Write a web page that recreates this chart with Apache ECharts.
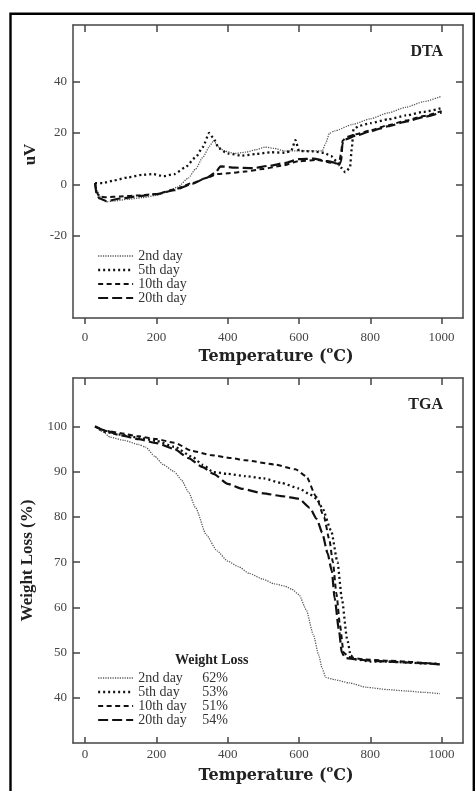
<!DOCTYPE html>
<html><head><meta charset="utf-8">
<script src="https://cdn.jsdelivr.net/npm/echarts@6/dist/echarts.min.js"></script>
<style>html,body{margin:0;padding:0;background:#fff}#c{width:475px;height:791px}</style>
</head><body><div id="c"></div>
<script>
// ---------- data ----------
const seriesNames = ['2nd day', '5th day', '10th day', '20th day'];
const weightLoss = ['62%', '53%', '51%', '54%'];
const xTicks = [0, 200, 400, 600, 800, 1000];
const dtaTicks = [-20, 0, 20, 40];
const tgaTicks = [40, 50, 60, 70, 80, 90, 100];

// DTA (uV) vs temperature (°C)
const dta2nd = [[28,0.5],[35,-3],[45,-5.5],[60,-6.8],[80,-6.5],[120,-5.8],[160,-5.2],[200,-4.3],[230,-3],[260,-1],[290,2.5],[310,6],[330,10.5],[350,15],[360,17],[375,14.5],[390,13],[420,12],[450,12.5],[480,13.5],[505,14.5],[530,14],[560,13],[600,13],[640,13],[665,13],[675,16],[685,19.8],[700,20.8],[750,23.3],[800,25.5],[850,27.8],[900,30],[950,32.2],[1000,34.3]];
const dta5th = [[28,0.5],[50,0.5],[80,1.5],[120,2.7],[160,3.7],[190,4],[220,3.2],[250,4],[280,6.5],[310,10.5],[330,14.5],[348,20],[360,18],[375,14],[400,12],[440,11.2],[480,11.8],[520,12.5],[560,12.3],[578,13],[590,17.2],[600,13],[640,12.8],[670,12.3],[690,11],[705,9],[718,6.5],[730,4.7],[743,6.5],[748,14],[753,21.5],[770,22.8],[800,23.8],[850,25.3],[900,26.8],[950,28.2],[1000,29.7]];
const dta10th = [[28,0.5],[32,-3],[40,-4.8],[60,-5],[100,-4.7],[150,-4.3],[200,-3.8],[250,-2],[300,0.5],[340,2.5],[370,4],[400,4.3],[450,5],[500,6],[550,7.2],[600,9],[650,9.5],[700,8.2],[712,8],[718,12],[722,17],[735,18.5],[760,19.5],[800,21],[850,23],[900,24.8],[950,26.6],[1000,28.5]];
const dta20th = [[28,0.5],[32,-3.5],[40,-5.5],[60,-6.5],[100,-5.5],[150,-4.6],[200,-3.8],[250,-2.3],[300,0.2],[340,2.5],[365,4.5],[380,7],[420,6.5],[470,6.3],[520,7.3],[560,8.3],[600,9.8],[640,10],[680,9],[705,8.3],[712,7.5],[718,9],[722,16],[730,17.5],[760,19],[800,20.6],[850,22.6],[900,24.4],[950,26.2],[1000,28]];

// TGA (weight %) vs temperature (°C)
const tga2nd = [[28,100],[50,98.8],[70,97.6],[110,96.9],[150,96],[170,95.4],[195,93.4],[220,91.5],[250,90],[270,88.2],[290,85.5],[310,82],[340,76],[370,72.5],[400,70.2],[430,69],[460,67.5],[500,66.2],[530,65.2],[560,64.7],[580,64],[600,62.8],[620,59.5],[640,54],[655,49.5],[665,46.5],[675,44.5],[700,44],[740,43.3],[790,42.3],[850,41.8],[900,41.5],[950,41.2],[995,40.9]];
const tga5th = [[28,100],[60,98.7],[100,98.2],[150,97.5],[200,96.8],[250,95.5],[300,93.3],[330,91.5],[360,89.9],[400,89.5],[450,89],[500,88.5],[550,87.5],[600,86.3],[630,85],[650,84],[665,82],[690,77],[708,70],[720,62],[735,53],[745,49.3],[760,48.5],[800,48],[850,48],[900,47.8],[950,47.6],[995,47.5]];
const tga10th = [[28,100],[60,99],[100,98.5],[150,97.8],[200,97.2],[250,96.4],[300,94.6],[350,93.7],[410,93],[450,92.5],[530,91.6],[590,90.5],[620,89],[648,84.5],[670,80],[685,75],[695,70],[705,63],[715,56],[725,50],[740,49],[780,48.5],[850,48.2],[900,48],[950,47.7],[995,47.4]];
const tga20th = [[28,100],[60,99],[100,98],[150,97.2],[200,96.3],[250,95],[290,93],[330,91],[360,89.5],[400,87.3],[440,86.2],[500,85.2],[550,84.6],[600,84],[630,82],[650,79.5],[665,76.5],[680,72],[692,68],[700,62],[712,55],[720,50],[730,48.8],[760,48.5],[800,48.2],[900,47.8],[995,47.4]];

// ---------- styles ----------
const serif = 'Liberation Serif';
const lineStyles = [
  {color:'#555', width:1.3, type:[1.2,1.2]},
  {color:'#111', width:2.3, type:[2,3]},
  {color:'#111', width:2, type:[5,3.5]},
  {color:'#111', width:2.2, type:[10,4]}
];
const axisLineStyle = {show:true, onZero:false, lineStyle:{color:'#444', width:1.5}};
const labelStyle = {fontFamily: serif, fontSize: 13, color: '#444', formatter: v => String(v)};
const xMin = -34, xMax = 1060;
const tempName = '{a|Temperature (}{s|o}{a|C)}';
const tempRich = {
  a:{fontFamily:'DejaVu Serif', fontWeight:'bold', fontSize:16, lineHeight:24, color:'#222'},
  s:{fontFamily:'DejaVu Serif', fontWeight:'bold', fontSize:10, lineHeight:8, color:'#222', verticalAlign:'top'}
};

function xBottom(grid, inside, margin, gap) {
  return {type:'value', gridIndex:grid, position:'bottom', min:xMin, max:xMax,
    axisLine:axisLineStyle, splitLine:{show:false},
    axisTick:{inside:inside, length:6, customValues:xTicks, lineStyle:{color:'#444', width:1.5}},
    axisLabel:Object.assign({customValues:xTicks, margin:margin}, labelStyle),
    name: tempName, nameLocation:'middle', nameGap:gap,
    nameTextStyle:{rich:tempRich, padding:[0,0,0,16]}};
}
function xTop(grid) {
  return {type:'value', gridIndex:grid, position:'top', min:xMin, max:xMax,
    axisLine:axisLineStyle, splitLine:{show:false},
    axisTick:{inside:true, length:7, customValues:xTicks, lineStyle:{color:'#444', width:1.5}},
    axisLabel:{show:false}};
}
function yLeft(grid, min, max, ticks, name, pad) {
  return {type:'value', gridIndex:grid, position:'left', min:min, max:max,
    axisLine:axisLineStyle, splitLine:{show:false},
    axisTick:{show:true, inside:true, length:7, customValues:ticks, lineStyle:{color:'#444', width:1.5}},
    axisLabel:Object.assign({customValues:ticks, margin:6}, labelStyle),
    name:name, nameLocation:'middle', nameGap:28,
    nameTextStyle:{fontFamily:serif, fontWeight:'bold', fontSize:17, color:'#222', padding:pad}};
}
function yRight(grid, min, max, ticks) {
  return {type:'value', gridIndex:grid, position:'right', min:min, max:max,
    axisLine:axisLineStyle, splitLine:{show:false},
    axisTick:{show:true, inside:true, length:7, customValues:ticks, lineStyle:{color:'#444', width:1.5}},
    axisLabel:{show:false}};
}

const dtaData = [dta2nd, dta5th, dta10th, dta20th];
const tgaData = [tga2nd, tga5th, tga10th, tga20th];
const series = [];
seriesNames.forEach((n, i) => {
  series.push({type:'line', name:n, xAxisIndex:0, yAxisIndex:0, data:dtaData[i],
    symbol:'none', smooth:0.2, smoothMonotone:'x', lineStyle:lineStyles[i], itemStyle:{color:lineStyles[i].color}});
});
seriesNames.forEach((n, i) => {
  series.push({type:'line', name:n, xAxisIndex:2, yAxisIndex:2, data:tgaData[i],
    symbol:'none', smooth:0.2, smoothMonotone:'x', lineStyle:lineStyles[i], itemStyle:{color:lineStyles[i].color}});
});

const chart = echarts.init(document.getElementById('c'), null, {renderer:'canvas'});
chart.setOption({
  animation:false,
  backgroundColor:'#fff',
  grid:[
    {left:73, top:25, width:390, height:293},
    {left:73, top:378, width:390, height:365}
  ],
  xAxis:[ xBottom(0, false, 13, 27), xTop(0), xBottom(1, true, 5, 21), xTop(1) ],
  yAxis:[
    yLeft(0, -52, 62, dtaTicks, 'uV', [0,0,0,34]), yRight(0, -52, 62, dtaTicks),
    yLeft(1, 30, 110.7, tgaTicks, 'Weight Loss (%)', 0), yRight(1, 30, 110.7, tgaTicks)
  ],
  title:[
    {text:'DTA', right:32, top:44, padding:0, textStyle:{fontFamily:serif, fontWeight:'bold', fontSize:16, color:'#222'}},
    {text:'TGA', right:32, top:397, padding:0, textStyle:{fontFamily:serif, fontWeight:'bold', fontSize:16, color:'#222'}},
    {text:'Weight Loss', left:175, top:653, padding:0, textStyle:{fontFamily:serif, fontWeight:'bold', fontSize:14, color:'#222'}}
  ],
  legend:[
    {data:seriesNames, orient:'vertical', left:97, top:249, padding:0, itemWidth:35, itemHeight:14, itemGap:0,
      selectedMode:false, itemStyle:{opacity:0, borderWidth:0}, lineStyle:{width:'inherit'},
      textStyle:{fontFamily:serif, fontSize:14, color:'#333'}},
    {data:seriesNames, orient:'vertical', left:97, top:671, padding:0, itemWidth:35, itemHeight:13.4, itemGap:0,
      selectedMode:false, itemStyle:{opacity:0, borderWidth:0}, lineStyle:{width:'inherit'},
      formatter: name => '{n|' + name + '}{p|' + weightLoss[seriesNames.indexOf(name)] + '}',
      textStyle:{fontFamily:serif, fontSize:14, color:'#333',
        rich:{n:{fontFamily:serif, fontSize:14, color:'#333', width:64}, p:{fontFamily:serif, fontSize:14, color:'#333'}}}}
  ],
  graphic:[
    {type:'rect', silent:true, shape:{x:10.5, y:13.8, width:463.3, height:800},
      style:{fill:'none', stroke:'#000', lineWidth:2.4}}
  ],
  series: series
});
</script>
</body></html>
